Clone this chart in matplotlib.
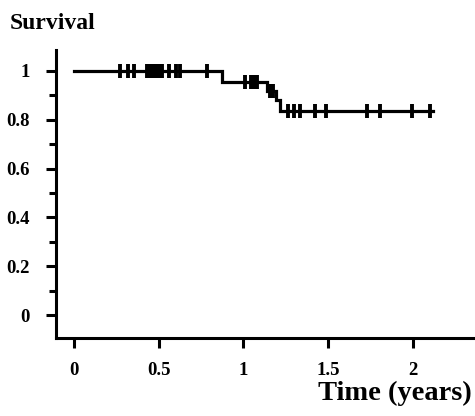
"""
Kaplan-Meier survival curve (reproduction).
"""

import matplotlib
matplotlib.use("Agg")
import matplotlib.pyplot as plt
import numpy as np

# Step curve: time where the drop happens, survival after the drop
event_times = [0.0, 0.873, 1.14, 1.19, 1.215]
event_surv = [1.0, 0.955, 0.92, 0.88, 0.835]
end_time = 2.12

# Censored observations (tick marks)
censor_times = [0.271, 0.319, 0.354, 0.43, 0.448, 0.466, 0.484, 0.50, 0.52,
                0.56, 0.60, 0.625, 0.785,
                1.009, 1.044, 1.062, 1.08,
                1.156, 1.174,
                1.263, 1.298, 1.333, 1.422, 1.487, 1.729, 1.805, 1.994, 2.10]

x_ticks = [0, 0.5, 1, 1.5, 2]
x_tick_labels = ["0", "0.5", "1", "1.5", "2"]
y_ticks = [0, 0.2, 0.4, 0.6, 0.8, 1]
y_tick_labels = ["0", "0.2", "0.4", "0.6", "0.8", "1"]
y_minor_ticks = [0.1, 0.3, 0.5, 0.7, 0.9]

plt.rcParams["font.family"] = ["Liberation Serif", "DejaVu Serif"]
plt.rcParams["font.weight"] = "bold"

fig = plt.figure(figsize=(4.75, 4.16), dpi=100)
ax = fig.add_axes([0.118, 0.1875, 0.882, 0.6923])

# curve
xs = list(event_times) + [end_time]
ys = list(event_surv) + [event_surv[-1]]
ax.step(xs, ys, where="post", color="black", linewidth=2.3, solid_joinstyle="miter")

# censor marks sit on the curve
idx = np.searchsorted(event_times, censor_times, side="right") - 1
censor_surv = np.array(event_surv)[idx]
ax.plot(censor_times, censor_surv, linestyle="none", marker="|",
        markersize=9.5, markeredgewidth=2.8, color="black")

# axes
ax.set_xlim(-0.106, 2.366)
ax.set_ylim(-0.094, 1.086)
ax.spines["top"].set_visible(False)
ax.spines["right"].set_visible(False)
ax.spines["left"].set_linewidth(2.2)
ax.spines["bottom"].set_linewidth(2.2)

ax.set_xticks(x_ticks)
ax.set_xticklabels(x_tick_labels)
ax.set_yticks(y_ticks)
ax.set_yticklabels(y_tick_labels)
ax.set_yticks(y_minor_ticks, minor=True)

ax.tick_params(axis="x", direction="out", length=7, width=2.2, pad=10, labelsize=13.5)
ax.tick_params(axis="y", which="major", direction="out", length=7, width=2.2, pad=12, labelsize=13.5)
ax.tick_params(axis="y", which="minor", direction="out", length=5, width=2.2)

for lab in ax.get_xticklabels() + ax.get_yticklabels():
    lab.set_fontweight("bold")

# titles
fig.text(10 / 475, 1 - 29 / 416, "Survival", fontsize=17, fontweight="bold",
         ha="left", va="baseline")
fig.text(472 / 475, 1 - 400 / 416, "Time (years)", fontsize=20.5, fontweight="bold",
         ha="right", va="baseline")

plt.savefig("out.png", dpi=100)
